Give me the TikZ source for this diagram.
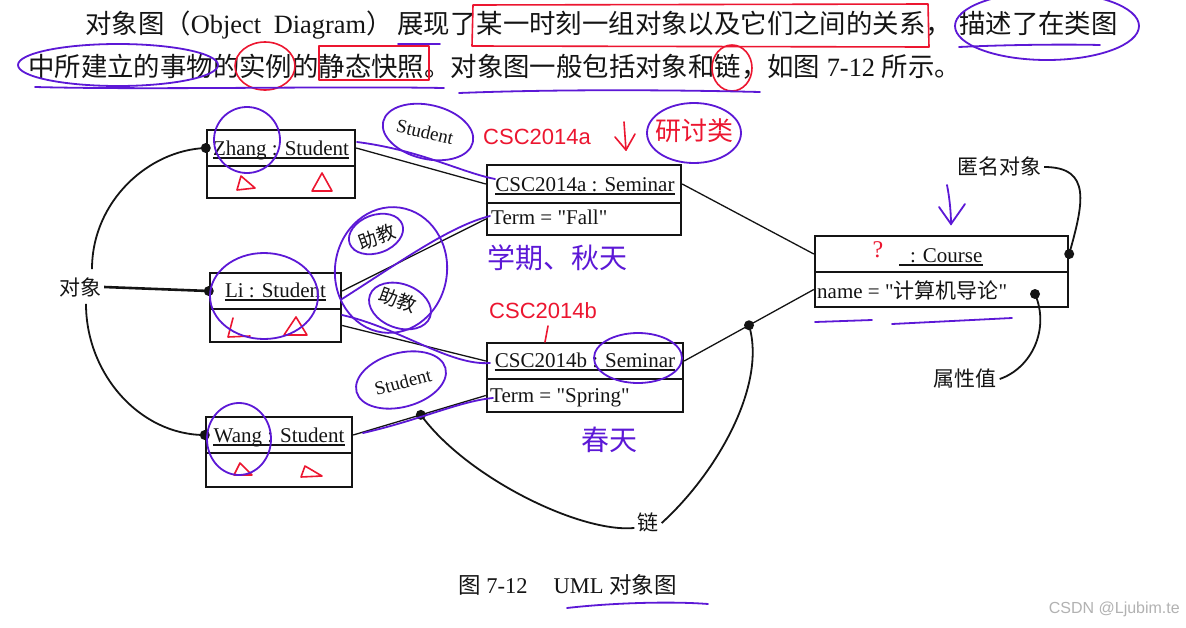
\documentclass[tikz,border=0pt]{standalone}
\usepackage{fontspec}
\setmainfont{Liberation Serif}[Ligatures=TeXOff]
\newfontfamily\zh{Noto Sans CJK SC}
\newfontfamily\hw{Liberation Sans}
\definecolor{ink}{RGB}{20,20,20}
\definecolor{pp}{RGB}{92,24,214}
\definecolor{rd}{RGB}{236,22,48}
\begin{document}
\begin{tikzpicture}[x=1pt,y=-1pt,
  comp/.style={draw=ink, line width=2.4pt, inner sep=0pt},
  nm/.style={inner sep=0pt, anchor=base, text=ink, font=\fontsize{21}{25}\selectfont},
  att/.style={inner sep=0pt, anchor=base west, text=ink, font=\fontsize{21}{25}\selectfont},
  ul/.style={line width=1.4pt, draw=ink},
  lnk/.style={line width=1.3pt, draw=ink},
  crv/.style={line width=1.8pt, draw=ink},
  lbl/.style={inner sep=3pt, text=ink, font=\zh\fontsize{21}{25}\selectfont},
  top/.style={inner sep=0pt, anchor=base west, text=ink, font=\fontsize{26.4}{30}\selectfont},
  ppl/.style={draw=pp, line width=1.8pt, line cap=round},
  rdl/.style={draw=rd, line width=1.6pt, line cap=round, line join=round},
  ppt/.style={inner sep=0pt, text=pp, font=\zh\fontsize{28}{30}\selectfont},
  rdt/.style={inner sep=0pt, text=rd}]
\useasboundingbox (0,0) rectangle (1186,627);
\fill[white] (0,0) rectangle (1186,627);

% ---------- top paragraph ----------
\node[top] (t1) at (85,33) {{\zh 对象图（}Object\hspace{6pt} Diagram{\zh ）}\hspace{5pt}{\zh 展现了某一时刻一组对象以及它们之间的关系，}};
\node[top] (t2) at (959,33) {\zh 描述了在类图};
\node[top] (t3) at (28,76) {{\zh 中所建立的事物的实例的静态快照。对象图一般包括对象和链，如图}\ 7-12\ {\zh 所示。}};

% ---------- object boxes ----------
\node[comp, minimum width=148pt, minimum height=36pt] (zN) at (281,148) {};
\node[comp, minimum width=148pt, minimum height=32pt] (zA) at (281,182) {};
\node[comp, minimum width=131pt, minimum height=36pt] (lN) at (275.5,291) {};
\node[comp, minimum width=131pt, minimum height=33pt] (lA) at (275.5,325.5) {};
\node[comp, minimum width=146pt, minimum height=36pt] (wN) at (279,435) {};
\node[comp, minimum width=146pt, minimum height=34pt] (wA) at (279,470) {};
\node[comp, minimum width=194pt, minimum height=38pt] (aN) at (584,184) {};
\node[comp, minimum width=194pt, minimum height=32pt] (aA) at (584,219) {};
\node[comp, minimum width=196pt, minimum height=36pt] (bN) at (585,361) {};
\node[comp, minimum width=196pt, minimum height=33pt] (bA) at (585,395.5) {};
\node[comp, minimum width=253pt, minimum height=36pt] (cN) at (941.5,254) {};
\node[comp, minimum width=253pt, minimum height=35pt] (cA) at (941.5,289.5) {};

\node[nm] (zT) at (281,155) {Zhang : Student};
\node[nm] (lT) at (275.5,297) {Li : Student};
\node[nm] (wT) at (279,442) {Wang : Student};
\node[nm] (aT) at (585,191) {CSC2014a : Seminar};
\node[nm] (bT) at (585,367) {CSC2014b : Seminar};
\node[nm] (cT) at (941,262) {\hphantom{n}: Course};
\foreach \t in {zT,lT,wT,aT,bT,cT}
  \draw[ul] ([yshift=-3pt]\t.base west) -- ([yshift=-3pt]\t.base east);

\node[att] (aV) at (491,224) {Term = "Fall"};
\node[att] (bV) at (490,402) {Term = "Spring"};
\node[att] (cV) at (817,298) {name = "{\zh\fontsize{21}{25}\selectfont 计算机导论}"};

% ---------- links ----------
\draw[lnk] (zN.east) -- (aN.west);
\draw[lnk] (lN.east) -- (aA.west);
\draw[lnk] (lA.east) -- (bN.west);
\draw[lnk] (wN.east) -- (bA.west);
\draw[lnk] (aN.east) -- (cN.west);
\draw[lnk] (bN.east) -- (cA.west);
\path (wN.east) -- (bA.west) coordinate[pos=0.51] (lk1);
\path (bN.east) -- (cA.west) coordinate[pos=0.5] (lk2);
\coordinate (cdot) at (1035,294);

% ---------- callout labels ----------
\node[lbl] (obj) at (80,287) {对象};
\node[lbl] (lian) at (648,522) {链};
\node[lbl] (anon) at (999,166) {匿名对象};
\node[lbl] (attv) at (965,379) {属性值};

\draw[line width=2.6pt, draw=ink] (obj.east) -- (lN.west);
\draw[crv] ([xshift=12pt,yshift=5pt]obj.north) .. controls +(0,-68) and +(-57,2) .. (zN.west);
\draw[crv] ([xshift=6pt,yshift=-4pt]obj.south) .. controls +(0,70) and +(-65,0) .. (wN.west);
\draw[crv] (lk1) .. controls +(45,62) and +(-55,5) .. ([yshift=-6pt]lian.west);
\draw[crv] ([yshift=-1pt]lian.east) .. controls +(55,-50) and +(18,60) .. (lk2);
\draw[crv] ([yshift=-1pt]anon.east) .. controls +(48,0) and +(14,-50) .. (cN.east);
\draw[crv] (attv.east) .. controls +(32,-11) and +(15,35) .. (cdot);

\foreach \p in {zN.west,lN.west,wN.west,lk1,lk2,cN.east,cdot}
  \fill[ink] (\p) circle (5pt);

% ---------- link role labels ----------
\node[inner sep=0pt, rotate=-13, text=ink, font=\fontsize{19}{22}\selectfont] (r1) at (425,132) {Student};
\node[inner sep=0pt, rotate=20, text=ink, font=\zh\fontsize{19}{22}\selectfont] (r2) at (377,237) {助教};
\node[inner sep=0pt, rotate=-20, text=ink, font=\zh\fontsize{19}{22}\selectfont] (r3) at (398,300) {助教};
\node[inner sep=0pt, rotate=15, text=ink, font=\fontsize{19}{22}\selectfont] (r4) at (403,382) {Student};

% ---------- caption & watermark ----------
\node[inner sep=0pt, anchor=base west, text=ink, font=\fontsize{22.5}{26}\selectfont] (cap) at (458,593)
  {{\zh 图} 7-12\hspace{26pt}UML {\zh 对象图}};
\node[inner sep=0pt, anchor=base east, text=black!30, font=\hw\fontsize{16}{18}\selectfont] (wm) at (1180,613) {CSDN @Ljubim.te};

% ---------- red annotations ----------
\draw[rdl] (473,5) -- (472,46) -- (929,47) -- (928,4) -- cycle;
\draw[rdl] (319,46) rectangle (429,80);
\draw[rdl] (265,66) ellipse (30pt and 24pt);
\draw[rdl] (732,68) ellipse (20pt and 23pt);
\node[rdt, font=\hw\fontsize{22}{26}\selectfont] (hA) at (537,137) {CSC2014a};
\draw[rdl] (624,122) -- (626,150);
\draw[rdl] (615,137) -- (626,150) -- (635,134);
\node[rdt, font=\zh\fontsize{26}{30}\selectfont] (hB) at (694,131) {研讨类};
\node[rdt, font=\hw\fontsize{22}{26}\selectfont] (hC) at (543,311) {CSC2014b};
\draw[rdl] (548,326) -- (545,342);
\node[rdt, font=\fontsize{24}{26}\selectfont] (hQ) at (878,250) {?};
% triangles
\draw[rdl] (237,190) -- (241,176) -- (255,188) -- cycle;
\draw[rdl] (312,191) -- (322,173) -- (332,191) -- cycle;
\draw[rdl] (233,318) -- (228,337) -- (250,336);
\draw[rdl] (284,335) -- (296,317) -- (307,335) -- cycle;
\draw[rdl] (234,475) -- (240,463) -- (252,475) -- cycle;
\draw[rdl] (301,477) -- (305,466) -- (322,476) -- cycle;

% ---------- purple annotations ----------
\draw[ppl] (398,44) -- (440,44);
\draw[ppl] (1047,26) ellipse (92pt and 34pt);
\draw[ppl] (959,47) .. controls (1000,45) and (1060,44) .. (1100,45);
\draw[ppl] (118,65) ellipse (100pt and 21pt);
\draw[ppl] (35,87) .. controls (150,90) and (330,86) .. (444,88);
\draw[ppl] (459,93) .. controls (560,89) and (680,90) .. (760,92);
% diagram circles
\draw[ppl] (247,140) ellipse (33pt and 33pt);
\draw[ppl] (264,296) ellipse (54pt and 43pt);
\draw[ppl] (239,439) ellipse (32pt and 36pt);
\draw[ppl, rotate around={-13:(428,132)}] (428,132) ellipse (46pt and 27pt);
\draw[ppl, rotate around={20:(376,234)}] (376,234) ellipse (28pt and 19pt);
\draw[ppl, rotate around={-20:(400,306)}] (400,306) ellipse (32pt and 22pt);
\draw[ppl, rotate around={-8:(391,270)}] (391,270) ellipse (56pt and 63pt);
\draw[ppl, rotate around={15:(401,380)}] (401,380) ellipse (46pt and 27pt);
\draw[ppl] (638,358) ellipse (44pt and 25pt);
\draw[ppl] (694,133) ellipse (47pt and 30pt);
% strokes along links
\draw[ppl] (357,142) .. controls (420,150) and (460,172) .. (495,179);
\draw[ppl] (342,299) .. controls (400,262) and (450,226) .. (490,216);
\draw[ppl] (342,315) .. controls (400,328) and (450,366) .. (490,363);
\draw[ppl] (363,433) .. controls (420,420) and (460,401) .. (493,398);
% handwriting
\node[ppt] (hT) at (557,258) {学期、秋天};
\node[ppt] (hS) at (609,440) {春天};
\draw[ppl] (947,185) .. controls (950,200) and (951,215) .. (951,224);
\draw[ppl] (939,207) -- (951,224) -- (965,204);
\draw[ppl] (815,322) -- (872,320);
\draw[ppl] (892,324) -- (1012,318);
\draw[ppl] (567,608) .. controls (610,603) and (670,601) .. (708,604);
\end{tikzpicture}
\end{document}
